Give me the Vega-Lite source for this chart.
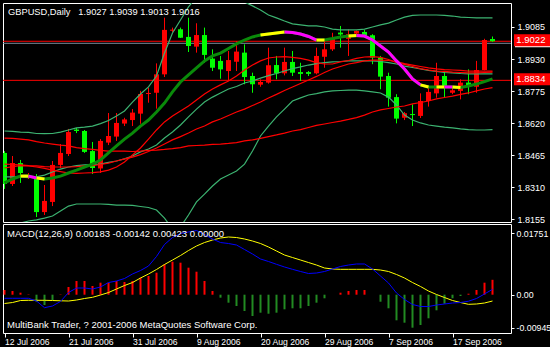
{
"$schema":"https://vega.github.io/schema/vega-lite/v6.json",
"background":"#000000",
"padding":{"left":2,"top":2,"right":0,"bottom":0},
"spacing":2,
"bounds":"flush",
"config":{"view":{"stroke":"#ffffff","strokeWidth":1,"fill":"#000000"},"axis":{"labelColor":"#ffffff","tickColor":"#ffffff","domain":false,"grid":false,"labelFont":"Liberation Sans","labelFontSize":9,"labelOverlap":false,"labelFlush":false,"labelBound":false},"text":{"font":"Liberation Sans"}},
"datasets":{
"bars":[
{"i":0,"o":1.8476,"h":1.8485,"l":1.8302,"c":1.8326,"A":1.8582,"B":1.8360,"C":1.8098,"D":1.8331,"Ra":1.8548,"Rb":1.8422,"Rc":1.8403,"hist":0.00133,"m":-0.00102,"s":-0.0025},
{"i":1,"o":1.8326,"h":1.8461,"l":1.8316,"c":1.8427,"A":1.8580,"B":1.8360,"C":1.8118,"D":1.8350,"Ra":1.8546,"Rb":1.8420,"Rc":1.8410,"hist":0.00105,"m":-0.00102,"s":-0.00222},
{"i":2,"o":1.8427,"h":1.8442,"l":1.8331,"c":1.8379,"A":1.8577,"B":1.8360,"C":1.8137,"D":1.8364,"Ra":1.8543,"Rb":1.8418,"Rc":1.8415,"hist":0.00057,"m":-0.00102,"s":-0.00165},
{"i":3,"o":1.8360,"h":1.8379,"l":1.8350,"c":1.8369,"A":1.8575,"B":1.8357,"C":1.8147,"D":1.8364,"Ra":1.8539,"Rb":1.8415,"Rc":1.8413,"hist":0.0001,"m":-0.00102,"s":-0.00159},
{"i":4,"o":1.8364,"h":1.8374,"l":1.8166,"c":1.8190,"A":1.8570,"B":1.8360,"C":1.8152,"D":1.8355,"Ra":1.8531,"Rb":1.8413,"Rc":1.8408,"hist":-0.00199,"m":-0.00179,"s":-0.00159},
{"i":5,"o":1.8190,"h":1.8321,"l":1.8176,"c":1.8244,"A":1.8569,"B":1.8369,"C":1.8161,"D":1.8350,"Ra":1.8524,"Rb":1.8410,"Rc":1.8401,"hist":-0.00293,"m":-0.00369,"s":-0.00159},
{"i":6,"o":1.8239,"h":1.8437,"l":1.8219,"c":1.8418,"A":1.8570,"B":1.8384,"C":1.8171,"D":1.8355,"Ra":1.8519,"Rb":1.8408,"Rc":1.8393,"hist":-0.00151,"m":-0.00321,"s":-0.00165},
{"i":7,"o":1.8418,"h":1.8519,"l":1.8403,"c":1.8476,"A":1.8577,"B":1.8398,"C":1.8195,"D":1.8364,"Ra":1.8514,"Rb":1.8408,"Rc":1.8386,"hist":0.0001,"m":-0.00193,"s":-0.00173},
{"i":8,"o":1.8471,"h":1.8592,"l":1.8461,"c":1.8577,"A":1.8587,"B":1.8408,"C":1.8219,"D":1.8379,"Ra":1.8510,"Rb":1.8408,"Rc":1.8379,"hist":0.00219,"m":0.00062,"s":-0.00179},
{"i":9,"o":1.8589,"h":1.8597,"l":1.8572,"c":1.8582,"A":1.8597,"B":1.8415,"C":1.8229,"D":1.8393,"Ra":1.8502,"Rb":1.8410,"Rc":1.8377,"hist":0.00389,"m":0.0019,"s":-0.00151},
{"i":10,"o":1.8582,"h":1.8587,"l":1.8476,"c":1.8481,"A":1.8601,"B":1.8418,"C":1.8229,"D":1.8408,"Ra":1.8497,"Rb":1.8413,"Rc":1.8379,"hist":0.00389,"m":0.0019,"s":-0.00108},
{"i":11,"o":1.8485,"h":1.8529,"l":1.8374,"c":1.8403,"A":1.8606,"B":1.8420,"C":1.8229,"D":1.8422,"Ra":1.8493,"Rb":1.8415,"Rc":1.8381,"hist":0.00247,"m":0.00162,"s":-0.00074},
{"i":12,"o":1.8401,"h":1.8543,"l":1.8379,"c":1.8534,"A":1.8618,"B":1.8422,"C":1.8229,"D":1.8442,"Ra":1.8488,"Rb":1.8420,"Rc":1.8384,"hist":0.00341,"m":0.00219,"s":-0.00009},
{"i":13,"o":1.8526,"h":1.8669,"l":1.8514,"c":1.8558,"A":1.8633,"B":1.8430,"C":1.8227,"D":1.8476,"Ra":1.8485,"Rb":1.8427,"Rc":1.8393,"hist":0.00341,"m":0.00346,"s":0.00062},
{"i":14,"o":1.8555,"h":1.8669,"l":1.8534,"c":1.8621,"A":1.8655,"B":1.8437,"C":1.8224,"D":1.8510,"Ra":1.8485,"Rb":1.8437,"Rc":1.8408,"hist":0.00389,"m":0.00389,"s":0.00162},
{"i":15,"o":1.8618,"h":1.8646,"l":1.8606,"c":1.8638,"A":1.8679,"B":1.8447,"C":1.8224,"D":1.8543,"Ra":1.8485,"Rb":1.8447,"Rc":1.8432,"hist":0.00361,"m":0.0046,"s":0.00261},
{"i":16,"o":1.8635,"h":1.8688,"l":1.8606,"c":1.8671,"A":1.8722,"B":1.8461,"C":1.8222,"D":1.8572,"Ra":1.8483,"Rb":1.8456,"Rc":1.8466,"hist":0.00389,"m":0.00588,"s":0.00346},
{"i":17,"o":1.8666,"h":1.8776,"l":1.8617,"c":1.8761,"A":1.8761,"B":1.8481,"C":1.8217,"D":1.8606,"Ra":1.8485,"Rb":1.8468,"Rc":1.8500,"hist":0.00483,"m":0.00687,"s":0.00474},
{"i":18,"o":1.8761,"h":1.8791,"l":1.8719,"c":1.8766,"A":1.8795,"B":1.8495,"C":1.8212,"D":1.8635,"Ra":1.8488,"Rb":1.8483,"Rc":1.8543,"hist":0.00531,"m":0.00815,"s":0.00588},
{"i":19,"o":1.8767,"h":1.8909,"l":1.8690,"c":1.8856,"A":1.8848,"B":1.8514,"C":1.8200,"D":1.8674,"Ra":1.8490,"Rb":1.8500,"Rc":1.8587,"hist":0.00625,"m":0.01085,"s":0.00716},
{"i":20,"o":1.8856,"h":1.9130,"l":1.8843,"c":1.9071,"A":1.8959,"B":1.8548,"C":1.8161,"D":1.8717,"Ra":1.8493,"Rb":1.8519,"Rc":1.8626,"hist":0.00863,"m":0.01426,"s":0.00858},
{"i":21,"o":1.9067,"h":1.9082,"l":1.9061,"c":1.9072,"A":1.9056,"B":1.8577,"C":1.8108,"D":1.8771,"Ra":1.8497,"Rb":1.8539,"Rc":1.8655,"hist":0.00937,"m":0.01624,"s":0.00985},
{"i":22,"o":1.9074,"h":1.9082,"l":1.9032,"c":1.9033,"A":1.9119,"B":1.8611,"C":1.8118,"D":1.8819,"Ra":1.8502,"Rb":1.8555,"Rc":1.8679,"hist":0.00909,"m":0.01738,"s":0.01113},
{"i":23,"o":1.9037,"h":1.9130,"l":1.8964,"c":1.8993,"A":1.9182,"B":1.8650,"C":1.8176,"D":1.8853,"Ra":1.8510,"Rb":1.8572,"Rc":1.8703,"hist":0.00767,"m":0.01781,"s":0.01255},
{"i":24,"o":1.8990,"h":1.9103,"l":1.8961,"c":1.9046,"A":1.9230,"B":1.8688,"C":1.8239,"D":1.8887,"Ra":1.8512,"Rb":1.8592,"Rc":1.8732,"hist":0.00653,"m":0.01823,"s":0.01383},
{"i":25,"o":1.9046,"h":1.9082,"l":1.8912,"c":1.8950,"A":1.9249,"B":1.8722,"C":1.8277,"D":1.8921,"Ra":1.8514,"Rb":1.8606,"Rc":1.8761,"hist":0.00389,"m":0.0171,"s":0.01482},
{"i":26,"o":1.8932,"h":1.8977,"l":1.8872,"c":1.8888,"A":1.9259,"B":1.8746,"C":1.8316,"D":1.8945,"Ra":1.8517,"Rb":1.8626,"Rc":1.8785,"hist":0.00105,"m":0.01582,"s":0.01553},
{"i":27,"o":1.8921,"h":1.8945,"l":1.8835,"c":1.8880,"A":1.9259,"B":1.8766,"C":1.8350,"D":1.8959,"Ra":1.8519,"Rb":1.8640,"Rc":1.8805,"hist":-0.00085,"m":0.01482,"s":0.0161},
{"i":28,"o":1.8872,"h":1.8969,"l":1.8824,"c":1.8925,"A":1.9249,"B":1.8785,"C":1.8369,"D":1.8981,"Ra":1.8522,"Rb":1.8657,"Rc":1.8824,"hist":-0.00227,"m":0.01454,"s":0.01639},
{"i":29,"o":1.8917,"h":1.9017,"l":1.8872,"c":1.8966,"A":1.9230,"B":1.8797,"C":1.8389,"D":1.9003,"Ra":1.8526,"Rb":1.8674,"Rc":1.8848,"hist":-0.00321,"m":0.01411,"s":0.01624},
{"i":30,"o":1.8961,"h":1.9001,"l":1.8808,"c":1.8843,"A":1.9206,"B":1.8814,"C":1.8422,"D":1.9022,"Ra":1.8534,"Rb":1.8688,"Rc":1.8877,"hist":-0.00463,"m":0.01284,"s":0.01582},
{"i":31,"o":1.8848,"h":1.8864,"l":1.8767,"c":1.8808,"A":1.9187,"B":1.8824,"C":1.8485,"D":1.9037,"Ra":1.8539,"Rb":1.8705,"Rc":1.8901,"hist":-0.00605,"m":0.01156,"s":0.01525},
{"i":32,"o":1.8806,"h":1.8832,"l":1.8796,"c":1.8819,"A":1.9167,"B":1.8838,"C":1.8558,"D":1.9046,"Ra":1.8546,"Rb":1.8722,"Rc":1.8921,"hist":-0.00511,"m":0.01014,"s":0.01454},
{"i":33,"o":1.8816,"h":1.8985,"l":1.8811,"c":1.8900,"A":1.9143,"B":1.8850,"C":1.8606,"D":1.9051,"Ra":1.8555,"Rb":1.8742,"Rc":1.8935,"hist":-0.0054,"m":0.00943,"s":0.01355},
{"i":34,"o":1.8901,"h":1.8945,"l":1.8832,"c":1.8861,"A":1.9129,"B":1.8860,"C":1.8650,"D":1.9056,"Ra":1.8563,"Rb":1.8759,"Rc":1.8940,"hist":-0.00511,"m":0.00863,"s":0.01241},
{"i":35,"o":1.8861,"h":1.8985,"l":1.8851,"c":1.8916,"A":1.9114,"B":1.8872,"C":1.8688,"D":1.9061,"Ra":1.8572,"Rb":1.8778,"Rc":1.8942,"hist":-0.00415,"m":0.00787,"s":0.01127},
{"i":36,"o":1.8916,"h":1.8969,"l":1.8848,"c":1.8864,"A":1.9100,"B":1.8884,"C":1.8727,"D":1.9058,"Ra":1.8582,"Rb":1.8795,"Rc":1.8938,"hist":-0.00386,"m":0.00721,"s":0.01056},
{"i":37,"o":1.8867,"h":1.8912,"l":1.8824,"c":1.8858,"A":1.9095,"B":1.8892,"C":1.8742,"D":1.9051,"Ra":1.8589,"Rb":1.8812,"Rc":1.8933,"hist":-0.00386,"m":0.00659,"s":0.00985},
{"i":38,"o":1.8867,"h":1.8872,"l":1.8848,"c":1.8858,"A":1.9090,"B":1.8901,"C":1.8756,"D":1.9039,"Ra":1.8599,"Rb":1.8829,"Rc":1.8925,"hist":-0.00321,"m":0.00602,"s":0.00914},
{"i":39,"o":1.8861,"h":1.8985,"l":1.8856,"c":1.8945,"A":1.9090,"B":1.8908,"C":1.8763,"D":1.9022,"Ra":1.8609,"Rb":1.8846,"Rc":1.8913,"hist":-0.00227,"m":0.00616,"s":0.00843},
{"i":40,"o":1.8941,"h":1.9028,"l":1.8888,"c":1.8977,"A":1.9085,"B":1.8913,"C":1.8771,"D":1.9022,"Ra":1.8616,"Rb":1.8865,"Rc":1.8906,"hist":-0.00102,"m":0.00659,"s":0.00758},
{"i":41,"o":1.8977,"h":1.9057,"l":1.8969,"c":1.9028,"A":1.9075,"B":1.8916,"C":1.8776,"D":1.9029,"Ra":1.8623,"Rb":1.8882,"Rc":1.8906,"hist":0,"m":0.0073,"s":0.0073},
{"i":42,"o":1.9058,"h":1.9090,"l":1.8985,"c":1.9049,"A":1.9071,"B":1.8918,"C":1.8778,"D":1.9037,"Ra":1.8630,"Rb":1.8894,"Rc":1.8916,"hist":0.00057,"m":0.00801,"s":0.00721},
{"i":43,"o":1.9028,"h":1.9073,"l":1.8945,"c":1.9050,"A":1.9071,"B":1.8921,"C":1.8780,"D":1.9041,"Ra":1.8638,"Rb":1.8906,"Rc":1.8923,"hist":0.00105,"m":0.00843,"s":0.00721},
{"i":44,"o":1.9053,"h":1.9068,"l":1.9051,"c":1.9066,"A":1.9071,"B":1.8921,"C":1.8780,"D":1.9044,"Ra":1.8647,"Rb":1.8913,"Rc":1.8933,"hist":0.00133,"m":0.00872,"s":0.00721},
{"i":45,"o":1.9061,"h":1.9071,"l":1.9034,"c":1.9038,"A":1.9075,"B":1.8921,"C":1.8776,"D":1.9041,"Ra":1.8659,"Rb":1.8921,"Rc":1.8940,"hist":0.00133,"m":0.00872,"s":0.00721},
{"i":46,"o":1.9045,"h":1.9050,"l":1.8905,"c":1.8937,"A":1.9085,"B":1.8921,"C":1.8771,"D":1.9022,"Ra":1.8674,"Rb":1.8925,"Rc":1.8942,"hist":0,"m":0.0073,"s":0.00721},
{"i":47,"o":1.8937,"h":1.8945,"l":1.8784,"c":1.8845,"A":1.9095,"B":1.8918,"C":1.8766,"D":1.8993,"Ra":1.8684,"Rb":1.8925,"Rc":1.8938,"hist":-0.00199,"m":0.00531,"s":0.00701},
{"i":48,"o":1.8848,"h":1.8864,"l":1.8700,"c":1.8743,"A":1.9104,"B":1.8913,"C":1.8746,"D":1.8964,"Ra":1.8691,"Rb":1.8923,"Rc":1.8928,"hist":-0.00386,"m":0.00332,"s":0.00659},
{"i":49,"o":1.8746,"h":1.8760,"l":1.8619,"c":1.8642,"A":1.9119,"B":1.8906,"C":1.8708,"D":1.8921,"Ra":1.8698,"Rb":1.8918,"Rc":1.8913,"hist":-0.00727,"m":0.00048,"s":0.00574},
{"i":50,"o":1.8646,"h":1.8674,"l":1.8635,"c":1.8668,"A":1.9133,"B":1.8896,"C":1.8659,"D":1.8882,"Ra":1.8703,"Rb":1.8908,"Rc":1.8904,"hist":-0.00795,"m":-0.00136,"s":0.00474},
{"i":51,"o":1.8664,"h":1.8711,"l":1.8606,"c":1.8659,"A":1.9141,"B":1.8889,"C":1.8635,"D":1.8834,"Ra":1.8713,"Rb":1.8901,"Rc":1.8894,"hist":-0.00937,"m":-0.00278,"s":0.00346},
{"i":52,"o":1.8655,"h":1.8764,"l":1.8645,"c":1.8727,"A":1.9143,"B":1.8882,"C":1.8621,"D":1.8805,"Ra":1.8720,"Rb":1.8894,"Rc":1.8884,"hist":-0.0086,"m":-0.00335,"s":0.00233},
{"i":53,"o":1.8727,"h":1.8800,"l":1.8700,"c":1.8771,"A":1.9143,"B":1.8875,"C":1.8611,"D":1.8795,"Ra":1.8727,"Rb":1.8887,"Rc":1.8877,"hist":-0.0067,"m":-0.00335,"s":0.00105},
{"i":54,"o":1.8764,"h":1.8912,"l":1.8743,"c":1.8848,"A":1.9143,"B":1.8870,"C":1.8606,"D":1.8795,"Ra":1.8737,"Rb":1.8882,"Rc":1.8872,"hist":-0.00443,"m":-0.00293,"s":0.00006},
{"i":55,"o":1.8848,"h":1.8872,"l":1.8743,"c":1.8796,"A":1.9141,"B":1.8865,"C":1.8601,"D":1.8795,"Ra":1.8744,"Rb":1.8879,"Rc":1.8870,"hist":-0.00256,"m":-0.00264,"s":-0.0008},
{"i":56,"o":1.8767,"h":1.8791,"l":1.8760,"c":1.8779,"A":1.9138,"B":1.8863,"C":1.8597,"D":1.8795,"Ra":1.8751,"Rb":1.8877,"Rc":1.8867,"hist":-0.00102,"m":-0.00236,"s":-0.00165},
{"i":57,"o":1.8776,"h":1.8832,"l":1.8735,"c":1.8816,"A":1.9133,"B":1.8860,"C":1.8592,"D":1.8792,"Ra":1.8759,"Rb":1.8875,"Rc":1.8865,"hist":-0.00037,"m":-0.00222,"s":-0.00222},
{"i":58,"o":1.8816,"h":1.8880,"l":1.8760,"c":1.8800,"A":1.9131,"B":1.8858,"C":1.8589,"D":1.8800,"Ra":1.8766,"Rb":1.8872,"Rc":1.8863,"hist":0.00028,"m":-0.00185,"s":-0.00273},
{"i":59,"o":1.8796,"h":1.8921,"l":1.8767,"c":1.8877,"A":1.9129,"B":1.8858,"C":1.8587,"D":1.8809,"Ra":1.8776,"Rb":1.8872,"Rc":1.8863,"hist":0.00133,"m":-0.00108,"s":-0.00264},
{"i":60,"o":1.8877,"h":1.9028,"l":1.8875,"c":1.9022,"A":1.9129,"B":1.8858,"C":1.8587,"D":1.8821,"Ra":1.8785,"Rb":1.8872,"Rc":1.8865,"hist":0.00341,"m":0.0002,"s":-0.00236},
{"i":61,"o":1.9027,"h":1.9039,"l":1.9013,"c":1.9016,"A":1.9129,"B":1.8858,"C":1.8589,"D":1.8834,"Ra":1.8792,"Rb":1.8872,"Rc":1.8867,"hist":0.00423,"m":0.00153,"s":-0.00179}
],
"seg":[
{"g":1,"c":"flat","i":2,"v":1.8364},{"g":1,"c":"flat","i":3,"v":1.8364},
{"g":2,"c":"down","i":3,"v":1.8364},{"g":2,"c":"down","i":4,"v":1.8355},
{"g":3,"c":"flat","i":4,"v":1.8355},{"g":3,"c":"flat","i":5,"v":1.8350},
{"g":4,"c":"flat","i":32,"v":1.9046},{"g":4,"c":"flat","i":33,"v":1.9051},{"g":4,"c":"flat","i":34,"v":1.9056},{"g":4,"c":"flat","i":35,"v":1.9061},
{"g":5,"c":"down","i":35,"v":1.9061},{"g":5,"c":"down","i":36,"v":1.9058},{"g":5,"c":"down","i":37,"v":1.9051},{"g":5,"c":"down","i":38,"v":1.9039},{"g":5,"c":"down","i":39,"v":1.9022},
{"g":6,"c":"flat","i":39,"v":1.9022},{"g":6,"c":"flat","i":40,"v":1.9022},
{"g":7,"c":"flat","i":43,"v":1.9041},{"g":7,"c":"flat","i":44,"v":1.9044},
{"g":8,"c":"down","i":44,"v":1.9044},{"g":8,"c":"down","i":45,"v":1.9041},{"g":8,"c":"down","i":46,"v":1.9022},{"g":8,"c":"down","i":47,"v":1.8993},{"g":8,"c":"down","i":48,"v":1.8964},{"g":8,"c":"down","i":49,"v":1.8921},{"g":8,"c":"down","i":50,"v":1.8882},{"g":8,"c":"down","i":51,"v":1.8834},{"g":8,"c":"down","i":52,"v":1.8805},
{"g":9,"c":"flat","i":52,"v":1.8805},{"g":9,"c":"flat","i":53,"v":1.8795},
{"g":10,"c":"flat","i":54,"v":1.8795},{"g":10,"c":"flat","i":55,"v":1.8795},
{"g":11,"c":"down","i":55,"v":1.8795},{"g":11,"c":"down","i":56,"v":1.8795},
{"g":12,"c":"flat","i":56,"v":1.8795},{"g":12,"c":"flat","i":57,"v":1.8792}
],
"levels":[{"p":1.9016,"k":"level","lab":"1.9022"},{"p":1.8827,"k":"level","lab":"1.8834"},{"p":1.9006,"k":"bid","lab":""}]
},
"vconcat":[
{
"width":508,"height":219,
"resolve":{"scale":{"color":"independent"},"axis":{"y":"independent","x":"independent"}},
"layer":[
{"data":{"name":"levels"},"mark":{"type":"rule","strokeWidth":1,"clip":true},
 "encoding":{"y":{"field":"p","type":"quantitative","title":null,"scale":{"domain":[1.8142,1.9201],"nice":false,"zero":false},
  "axis":{"orient":"right","values":[1.9085,1.893,1.8775,1.862,1.8465,1.831,1.8155],"format":".4f","tickSize":3,"labelPadding":3,"labelFontSize":9,"labelOverlap":false,"labelFlush":false,"labelBound":false}},
  "color":{"field":"k","type":"nominal","scale":{"domain":["level","bid"],"range":["#ff0000","#778899"]},"legend":null}}},
{"data":{"name":"bars"},"mark":{"type":"rule","strokeWidth":1,"clip":true},
 "encoding":{"x":{"field":"i","type":"quantitative","scale":{"domain":[-0.1875,63.3125],"nice":false,"zero":false},"axis":null},
  "y":{"field":"l","type":"quantitative","title":null,"axis":null},"y2":{"field":"h"},
  "color":{"condition":{"test":"datum.c >= datum.o","value":"#ff0000"},"value":"#00ff00"}}},
{"data":{"name":"bars"},"mark":{"type":"rule","strokeWidth":5,"clip":true},
 "encoding":{"x":{"field":"i","type":"quantitative","axis":null},
  "y":{"field":"o","type":"quantitative","title":null,"axis":null},"y2":{"field":"c"},
  "color":{"condition":{"test":"datum.c >= datum.o","value":"#ff0000"},"value":"#00ff00"}}},
{"data":{"name":"bars"},"transform":[{"fold":["A","B","C","Ra","Rb","Rc"],"as":["k","v"]}],
 "mark":{"type":"line","strokeWidth":1.2,"clip":true},
 "encoding":{"x":{"field":"i","type":"quantitative","axis":null},
  "y":{"field":"v","type":"quantitative","title":null,"axis":null},
  "color":{"field":"k","type":"nominal","scale":{"domain":["A","B","C","Ra","Rb","Rc"],"range":["#3cb371","#3cb371","#3cb371","#ff0000","#ff0000","#ff0000"]},"legend":null}}},
{"data":{"name":"bars"},"mark":{"type":"line","strokeWidth":3,"color":"#0a8a0a","clip":true},
 "encoding":{"x":{"field":"i","type":"quantitative","axis":null},"y":{"field":"D","type":"quantitative","title":null,"axis":null}}},
{"data":{"name":"seg"},"mark":{"type":"line","strokeWidth":3,"clip":true},
 "encoding":{"x":{"field":"i","type":"quantitative","axis":null},"y":{"field":"v","type":"quantitative","title":null,"axis":null},
  "detail":{"field":"g","type":"nominal"},
  "color":{"field":"c","type":"nominal","scale":{"domain":["flat","down"],"range":["#ffff00","#ff00ff"]},"legend":null}}},
{"data":{"name":"levels"},"transform":[{"filter":"datum.k == 'bid'"}],
 "mark":{"type":"tick","orient":"horizontal","size":35,"thickness":8,"color":"#ffffff","opacity":1,"clip":false},
 "encoding":{"x":{"datum":66,"type":"quantitative","axis":null},"y":{"field":"p","type":"quantitative","title":null,"axis":null}}},
{"data":{"name":"levels"},"transform":[{"filter":"datum.k == 'level'"}],
 "mark":{"type":"tick","orient":"horizontal","size":37,"thickness":12,"color":"#ff0000","opacity":1,"yOffset":-1,"clip":false},
 "encoding":{"x":{"datum":66,"type":"quantitative","axis":null},"y":{"field":"p","type":"quantitative","title":null,"axis":null}}},
{"data":{"name":"levels"},"transform":[{"filter":"datum.k == 'level'"}],
 "mark":{"type":"text","color":"#ffffff","fontSize":9.5,"align":"center","baseline":"middle","yOffset":-1,"clip":false},
 "encoding":{"x":{"datum":65.8,"type":"quantitative","axis":null},"y":{"field":"p","type":"quantitative","title":null,"axis":null},"text":{"field":"lab"}}},
{"data":{"values":[{"t":"GBPUSD,Daily\u00a0\u00a0 1.9027 1.9039 1.9013 1.9016"}]},
 "mark":{"type":"text","color":"#ffffff","fontSize":9.3,"align":"left","baseline":"middle"},
 "encoding":{"x":{"datum":0.4375,"type":"quantitative","axis":null},"y":{"datum":1.91575,"type":"quantitative","axis":null},"text":{"field":"t"}}}
]
},
{
"width":508,"height":109,
"resolve":{"axis":{"y":"independent","x":"independent"}},
"layer":[
{"data":{"name":"bars"},"mark":{"type":"rule","strokeWidth":2,"clip":true},
 "encoding":{"x":{"field":"i","type":"quantitative","scale":{"domain":[-0.1875,63.3125],"nice":false,"zero":false},
   "axis":{"orient":"bottom","values":[0,8,16,24,32,40,48,56],"labelExpr":"['12 Jul 2006','21 Jul 2006','31 Jul 2006','9 Aug 2006','20 Aug 2006','29 Aug 2006','7 Sep 2006','17 Sep 2006'][round(datum.value/8)]","labelAlign":"left","labelPadding":0,"tickSize":4,"labelFontSize":8.6,"labelBaseline":"top","title":null,"labelOverlap":false,"labelFlush":false,"labelBound":false}},
  "y":{"field":"hist","type":"quantitative","title":null,"scale":{"domain":[-0.010877,0.020079],"nice":false,"zero":false},
   "axis":{"orient":"right","values":[0.01751,0,-0.00945],"labelExpr":"datum.value > 0.01 ? '0.01751' : (datum.value < -0.005 ? '-0.00945' : '0.00')","tickSize":3,"labelPadding":2,"labelFontSize":8.8,"labelOverlap":false,"labelFlush":false,"labelBound":false}},
  "y2":{"datum":0},
  "color":{"condition":{"test":"datum.hist >= 0","value":"#ff0000"},"value":"#228b22"}}},
{"data":{"name":"bars"},"mark":{"type":"line","strokeWidth":1,"color":"#ffff00","clip":true},
 "encoding":{"x":{"field":"i","type":"quantitative","axis":null},"y":{"field":"s","type":"quantitative","title":null,"axis":null}}},
{"data":{"name":"bars"},"mark":{"type":"line","strokeWidth":1,"color":"#0000ff","clip":true},
 "encoding":{"x":{"field":"i","type":"quantitative","axis":null},"y":{"field":"m","type":"quantitative","title":null,"axis":null}}},
{"data":{"values":[{"t":"MACD(12,26,9) 0.00183 -0.00142 0.00423 0.00000","v":0.01715},{"t":"MultiBank Trader, ? 2001-2006 MetaQuotes Software Corp.","v":-0.0086}]},
 "mark":{"type":"text","color":"#ffffff","fontSize":9.5,"align":"left","baseline":"middle"},
 "encoding":{"x":{"datum":0.3125,"type":"quantitative","axis":null},"y":{"field":"v","type":"quantitative","title":null,"axis":null},"text":{"field":"t"}}}
]
}
]
}
